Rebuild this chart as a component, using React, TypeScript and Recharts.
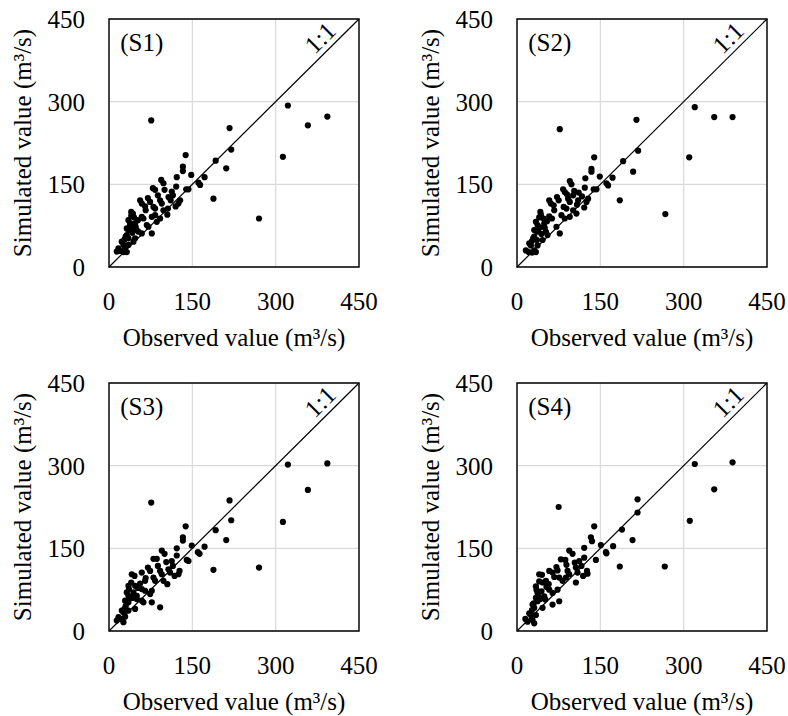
import {
  ScatterChart,
  Scatter,
  XAxis,
  YAxis,
  CartesianGrid,
  ReferenceLine,
  ReferenceArea,
  ReferenceDot,
  Label,
} from "recharts";

// [observed, simulated] pairs, m3/s
const s1Points: [number, number][] = [
  [76, 266], [322, 293], [358, 257], [393, 273], [313, 200], [270, 88], [217, 252], [220, 213], [192, 193], [211, 179], [188, 124],
  [138, 203], [133, 182], [133, 174], [148, 167], [172, 163], [161, 153], [164, 149], [122, 163], [94, 158], [98, 152], [121, 146],
  [139, 141], [143, 141], [113, 137], [79, 143], [83, 140], [128, 121], [125, 115], [107, 127], [111, 121], [92, 121], [95, 115],
  [56, 121], [59, 115], [74, 118], [80, 109], [83, 106], [98, 103], [106, 106], [66, 103], [43, 97], [40, 93], [59, 91], [62, 88],
  [77, 91], [83, 94], [92, 88], [86, 82], [35, 85], [38, 79], [47, 79], [68, 76], [71, 73], [32, 70], [35, 67], [50, 67], [53, 64],
  [77, 61], [59, 61], [32, 58], [35, 52], [47, 52], [44, 46], [23, 46], [26, 40], [35, 40], [17, 34], [20, 29], [29, 34], [14, 28],
  [26, 27], [32, 27], [40, 100], [45, 90], [38, 75], [42, 62], [30, 55], [52, 85], [65, 110], [70, 125], [88, 130], [100, 140],
  [115, 130], [105, 95], [120, 110], [40, 70], [28, 50], [48, 73],
];

const s2Points: [number, number][] = [
  [77, 250], [320, 290], [355, 272], [388, 272], [310, 199], [267, 96], [215, 267], [218, 211], [191, 192], [209, 173], [185, 121],
  [139, 199], [134, 178], [134, 173], [149, 164], [123, 161], [172, 162], [161, 152], [164, 148], [95, 156], [98, 150], [122, 144],
  [138, 141], [143, 141], [83, 141], [86, 136], [111, 135], [101, 130], [58, 121], [61, 115], [75, 121], [92, 124], [95, 118],
  [110, 121], [108, 113], [128, 124], [125, 118], [84, 109], [89, 106], [101, 103], [67, 103], [43, 95], [40, 90], [58, 92], [63, 88],
  [80, 94], [86, 88], [95, 91], [34, 82], [37, 76], [49, 79], [71, 73], [77, 61], [31, 67], [36, 64], [52, 64], [55, 58], [31, 55],
  [36, 49], [46, 49], [22, 43], [25, 39], [37, 39], [16, 30], [21, 27], [31, 30], [27, 26], [34, 27], [42, 100], [48, 88], [39, 70],
  [44, 60], [29, 52], [54, 83], [66, 112], [72, 127], [90, 132], [103, 138], [117, 128], [107, 97], [121, 108], [41, 72], [27, 47],
  [50, 71],
];

const s3Points: [number, number][] = [
  [76, 233], [322, 302], [393, 304], [358, 256], [313, 198], [270, 115], [188, 111], [217, 237], [220, 201], [192, 183], [211, 165],
  [138, 190], [133, 170], [133, 164], [149, 155], [122, 150], [172, 153], [160, 143], [163, 140], [95, 146], [100, 140], [122, 137],
  [140, 129], [143, 127], [80, 131], [86, 131], [113, 127], [127, 109], [125, 103], [107, 112], [110, 106], [92, 109], [95, 103],
  [41, 103], [46, 100], [59, 106], [74, 109], [80, 97], [83, 91], [98, 91], [65, 91], [35, 82], [36, 76], [47, 82], [59, 76], [65, 73],
  [77, 73], [32, 70], [35, 64], [50, 64], [74, 67], [59, 55], [62, 52], [77, 52], [92, 43], [29, 55], [35, 52], [47, 40], [23, 37],
  [26, 34], [35, 37], [17, 25], [20, 22], [29, 26], [14, 19], [26, 16], [40, 88], [44, 70], [38, 60], [30, 45], [52, 78], [66, 96],
  [70, 115], [88, 118], [103, 125], [115, 118], [105, 85], [118, 100], [42, 60], [28, 40], [50, 58], [56, 86],
];

const s4Points: [number, number][] = [
  [75, 225], [320, 303], [388, 306], [355, 257], [311, 200], [266, 117], [185, 117], [217, 239], [217, 215], [189, 184], [208, 165],
  [139, 190], [133, 170], [135, 163], [151, 156], [121, 151], [173, 154], [160, 143], [161, 141], [94, 146], [100, 140], [121, 133],
  [142, 129], [79, 130], [87, 129], [112, 127], [126, 109], [127, 104], [106, 115], [109, 106], [91, 109], [94, 103], [40, 103],
  [45, 102], [58, 109], [64, 106], [73, 110], [76, 97], [82, 91], [88, 97], [52, 91], [34, 81], [35, 75], [37, 69], [46, 88], [58, 75],
  [64, 69], [73, 75], [76, 54], [64, 48], [34, 60], [37, 54], [49, 63], [46, 42], [28, 48], [31, 42], [22, 32], [25, 29], [34, 29],
  [15, 22], [19, 17], [28, 20], [31, 14], [40, 90], [44, 72], [39, 62], [30, 50], [53, 80], [67, 98], [71, 116], [89, 120], [104, 124],
  [116, 118], [106, 88], [119, 100], [42, 58], [27, 38], [51, 57], [57, 85],
];

const axisTicks = [0, 150, 300, 450];
const xTitle = "Observed value (m³/s)";
const yTitle = "Simulated value (m³/s)";

const FONT = '"Liberation Serif", "Times New Roman", serif';
const FS = 25;

const tickStyle = { fill: "#000", fontSize: FS, fontFamily: FONT };

function XTitle({ viewBox }: any) {
  return (
    <text
      x={viewBox.x + viewBox.width / 2}
      y={viewBox.y + 79}
      textAnchor="middle"
      fontSize={FS}
      fontFamily={FONT}
      fill="#000"
    >
      {xTitle}
    </text>
  );
}

function YTitle({ viewBox }: any) {
  const x = viewBox.x + 31;
  const y = viewBox.y + viewBox.height / 2;
  return (
    <text
      x={x}
      y={y}
      transform={`rotate(-90, ${x}, ${y})`}
      textAnchor="middle"
      fontSize={FS}
      fontFamily={FONT}
      fill="#000"
    >
      {yTitle}
    </text>
  );
}

function TextAt({ viewBox, text, angle }: any) {
  const x = viewBox.x + (viewBox.width || 0) / 2;
  const y = viewBox.y + (viewBox.height || 0) / 2;
  return (
    <text
      x={x}
      y={y}
      transform={angle ? `rotate(${angle}, ${x}, ${y})` : undefined}
      textAnchor="middle"
      dominantBaseline="central"
      fontSize={FS}
      fontFamily={FONT}
      fill="#000"
    >
      {text}
    </text>
  );
}

const dot = (props: any) => <circle cx={props.cx} cy={props.cy} r={3.1} fill="#000" />;

function Panel({ points, tag, left, top }: { points: [number, number][]; tag: string; left: number; top: number }) {
  const data = points.map(([obs, sim]) => ({ obs, sim }));
  return (
    <div style={{ position: "absolute", left, top }}>
      <ScatterChart width={389} height={352} margin={{ top: 19, right: 30, bottom: 0, left: 0 }}>
        <CartesianGrid stroke="#d9d9d9" strokeWidth={1.2} />
        <XAxis
          type="number"
          dataKey="obs"
          domain={[0, 450]}
          ticks={axisTicks}
          interval={0}
          height={85}
          tickSize={0}
          tickMargin={25}
          axisLine={false}
          tickLine={false}
          tick={tickStyle}
        >
          <Label content={XTitle} />
        </XAxis>
        <YAxis
          type="number"
          dataKey="sim"
          domain={[0, 450]}
          ticks={axisTicks}
          interval={0}
          width={109}
          tickSize={0}
          tickMargin={24}
          axisLine={false}
          tickLine={false}
          tick={tickStyle}
        >
          <Label content={YTitle} />
        </YAxis>
        <ReferenceLine
          segment={[{ x: 0, y: 0 }, { x: 450, y: 450 }]}
          stroke="#000"
          strokeWidth={1.2}
        />
        <ReferenceArea x1={0} x2={450} y1={0} y2={450} fill="none" fillOpacity={0} stroke="#000" strokeWidth={1.4} />
        <ReferenceDot x={59} y={408} r={0} stroke="none" fill="none">
          <Label content={(p: any) => <TextAt {...p} text={tag} />} />
        </ReferenceDot>
        <ReferenceDot x={380} y={416} r={0} stroke="none" fill="none">
          <Label content={(p: any) => <TextAt {...p} text="1:1" angle={-45} />} />
        </ReferenceDot>
        <Scatter data={data} isAnimationActive={false} shape={dot} />
      </ScatterChart>
    </div>
  );
}

export default function App() {
  return (
    <div
      style={{
        position: "absolute",
        left: 0,
        top: 0,
        width: 788,
        height: 716,
        background: "#fff",
        overflow: "hidden",
        fontFamily: FONT,
      }}
    >
      <Panel points={s1Points} tag="(S1)" left={0} top={0} />
      <Panel points={s2Points} tag="(S2)" left={408} top={0} />
      <Panel points={s3Points} tag="(S3)" left={0} top={364} />
      <Panel points={s4Points} tag="(S4)" left={408} top={364} />
    </div>
  );
}
